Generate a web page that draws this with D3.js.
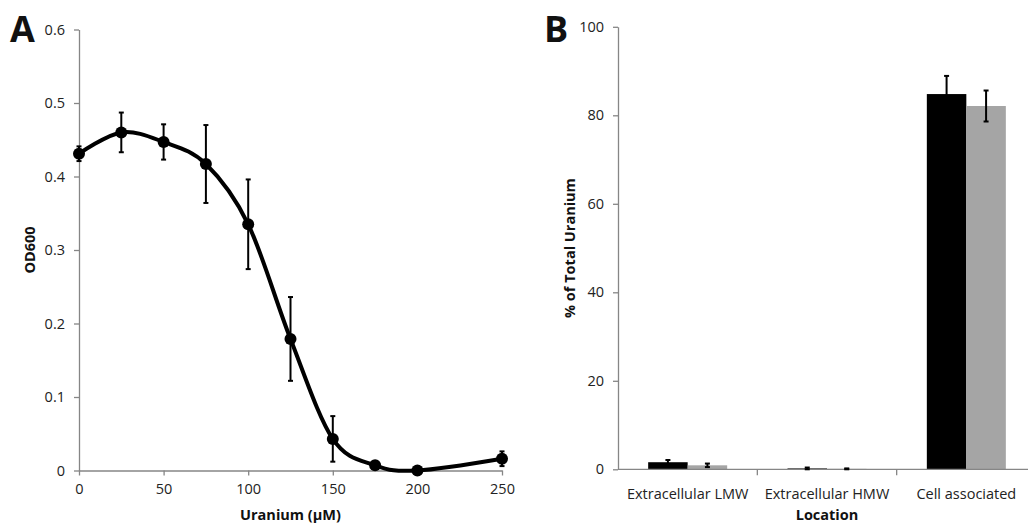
<!DOCTYPE html>
<html lang="en">
<head>
<meta charset="UTF-8">
<title>uranium figure</title>
<script src="https://d3js.org/d3.v7.min.js"></script>
<style>
  body { margin: 0; background: #fff; }
  svg { display: block; font-family: "Open Sans", sans-serif; }
  .axis path, .axis line { stroke: #868686; stroke-width: 1.3; }
  .axis text { font-size: 14.5px; fill: #222; font-family: "Open Sans", sans-serif; }
  .title { font-size: 14.5px; font-weight: bold; fill: #111; }
  .panel { font-size: 36px; font-weight: bold; fill: #111; }
</style>
</head>
<body>
<svg id="fig" width="1028" height="523"></svg>
<script>
// panel A: growth vs uranium concentration
let uranium = [0, 25, 50, 75, 100, 125, 150, 175, 200, 250];
let od600 = [0.431, 0.460, 0.447, 0.417, 0.335, 0.179, 0.043, 0.007, 0.0, 0.016];
let od600_err = [0.01, 0.027, 0.024, 0.053, 0.061, 0.057, 0.031, 0.004, 0, 0.01];
let xTicksA = [0, 50, 100, 150, 200, 250];
let yTicksA = [0, 0.1, 0.2, 0.3, 0.4, 0.5, 0.6];

// panel B: location of uranium
let locations = ["Extracellular LMW", "Extracellular HMW", "Cell associated"];
let series1 = [1.6, 0.2, 84.8];
let series1_err = [0.5, 0.2, 4.1];
let series2 = [0.9, 0.1, 82.1];
let series2_err = [0.4, 0.1, 3.5];
let yTicksB = [0, 20, 40, 60, 80, 100];

let svg = d3.select("#fig");

// ---------- panel A
let xA = d3.scaleLinear().domain([0, 250]).range([79, 502]);
let yA = d3.scaleLinear().domain([0, 0.6]).range([470.5, 29.5]);

let gA = svg.append("g");
gA.append("g").attr("class", "axis")
    .attr("transform", "translate(0," + yA(0) + ")")
    .call(d3.axisBottom(xA).tickValues(xTicksA).tickSize(5).tickPadding(8).tickSizeOuter(0));
gA.append("g").attr("class", "axis")
    .attr("transform", "translate(" + xA(0) + ",0)")
    .call(d3.axisLeft(yA).tickValues(yTicksA).tickSize(5).tickPadding(9).tickSizeOuter(0)
        .tickFormat(d => d === 0 ? "0" : d3.format(".1f")(d)));

let ptsA = uranium.map((u, i) => ({x: u, y: od600[i], e: od600_err[i]}));

// error bars
let eb = gA.append("g").attr("stroke", "#000").attr("stroke-width", 2);
ptsA.filter(d => d.e > 0).forEach(d => {
    eb.append("line").attr("x1", xA(d.x)).attr("x2", xA(d.x))
        .attr("y1", yA(d.y - d.e)).attr("y2", yA(d.y + d.e));
    [d.y - d.e, d.y + d.e].forEach(v => {
        eb.append("line").attr("x1", xA(d.x) - 2.5).attr("x2", xA(d.x) + 2.5)
            .attr("y1", yA(v)).attr("y2", yA(v));
    });
});

gA.append("path").datum(ptsA)
    .attr("fill", "none").attr("stroke", "#000").attr("stroke-width", 4)
    .attr("d", d3.line().x(d => xA(d.x)).y(d => yA(d.y)).curve(d3.curveCardinal.tension(0)));

gA.append("g").selectAll("circle").data(ptsA).join("circle")
    .attr("cx", d => xA(d.x)).attr("cy", d => yA(d.y)).attr("r", 6).attr("fill", "#000");

gA.append("text").attr("class", "title").attr("text-anchor", "middle")
    .attr("x", xA(125)).attr("y", 520).text("Uranium (µM)");
gA.append("text").attr("class", "title").attr("text-anchor", "middle")
    .attr("transform", "translate(35," + yA(0.3) + ") rotate(-90)").text("OD600");
gA.append("text").attr("class", "panel").attr("x", 10).attr("y", 42).text("A");

// ---------- panel B
let x0 = d3.scaleBand().domain(locations).range([618, 1036]).paddingInner(0).paddingOuter(0);
let yB = d3.scaleLinear().domain([0, 100]).range([469.3, 26.8]);
let bw = 39.5;

let gB = svg.append("g");
gB.append("g").attr("class", "axis")
    .attr("transform", "translate(" + x0.range()[0] + ",0)")
    .call(d3.axisLeft(yB).tickValues(yTicksB).tickSize(5).tickPadding(9).tickSizeOuter(0));

let bars = locations.map((l, i) => [
    {loc: l, k: 0, v: series1[i], e: series1_err[i], c: "#000000"},
    {loc: l, k: 1, v: series2[i], e: series2_err[i], c: "#a5a5a5"}
]).flat();

gB.append("g").selectAll("rect").data(bars).join("rect")
    .attr("x", d => x0(d.loc) + x0.bandwidth() / 2 - bw + d.k * bw)
    .attr("width", bw)
    .attr("y", d => yB(d.v))
    .attr("height", d => yB(0) - yB(d.v))
    .attr("fill", d => d.c);

let xAxisB = gB.append("g").attr("class", "axis")
    .attr("transform", "translate(0," + yB(0) + ")");
xAxisB.append("line").attr("x1", 618).attr("x2", 1036);
xAxisB.selectAll(".tk").data(locations.slice(1)).join("line")
    .attr("x1", d => x0(d)).attr("x2", d => x0(d)).attr("y1", 0).attr("y2", 6);
xAxisB.selectAll("text").data(locations).join("text")
    .attr("x", d => x0(d) + x0.bandwidth() / 2).attr("y", 30)
    .attr("text-anchor", "middle").text(d => d);

let ebB = gB.append("g").attr("stroke", "#000").attr("stroke-width", 2);
bars.forEach(d => {
    let cx = x0(d.loc) + x0.bandwidth() / 2 - bw / 2 + d.k * bw;
    ebB.append("line").attr("x1", cx).attr("x2", cx)
        .attr("y1", yB(d.v - d.e)).attr("y2", yB(d.v + d.e));
    [d.v - d.e, d.v + d.e].forEach(v => {
        ebB.append("line").attr("x1", cx - 2.5).attr("x2", cx + 2.5)
            .attr("y1", yB(v)).attr("y2", yB(v));
    });
});

gB.append("text").attr("class", "title").attr("text-anchor", "middle")
    .attr("x", x0("Extracellular HMW") + x0.bandwidth() / 2).attr("y", 520).text("Location");
gB.append("text").attr("class", "title").attr("text-anchor", "middle")
    .attr("transform", "translate(575," + yB(50) + ") rotate(-90)").text("% of Total Uranium");
gB.append("text").attr("class", "panel").attr("x", 544).attr("y", 42).text("B");
</script>
</body>
</html>
